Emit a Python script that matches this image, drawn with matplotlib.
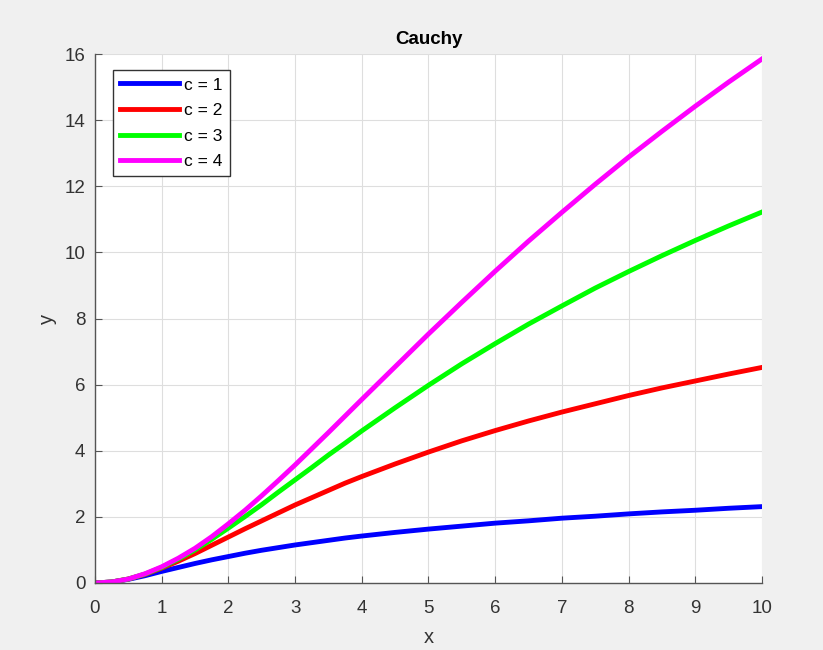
import numpy as np
import matplotlib
matplotlib.use('Agg')
import matplotlib.pyplot as plt

plt.rcParams['font.family'] = ['Liberation Sans', 'DejaVu Sans']

# values (finer steps where the curves bend most)
x = [0, 0.25, 0.5, 0.75, 1, 1.25, 1.5, 1.75, 2, 2.25, 2.5, 2.75, 3, 3.25, 3.5, 3.75,
     4, 4.5, 5, 5.5, 6, 6.5, 7, 7.5, 8, 8.5, 9, 9.5, 10]
y_c1 = [0, 0.03, 0.11, 0.22, 0.35, 0.47, 0.59, 0.70, 0.80, 0.90, 0.99, 1.07, 1.15, 1.22,
        1.29, 1.36, 1.42, 1.53, 1.63, 1.72, 1.81, 1.88, 1.96, 2.02, 2.09, 2.15, 2.20,
        2.26, 2.31]
y_c2 = [0, 0.03, 0.12, 0.26, 0.45, 0.66, 0.89, 1.14, 1.39, 1.64, 1.88, 2.12, 2.36, 2.58,
        2.80, 3.02, 3.22, 3.60, 3.96, 4.30, 4.61, 4.90, 5.17, 5.42, 5.67, 5.90, 6.11,
        6.32, 6.52]
y_c3 = [0, 0.03, 0.12, 0.27, 0.47, 0.72, 1.00, 1.32, 1.66, 2.01, 2.37, 2.75, 3.12, 3.49,
        3.87, 4.23, 4.60, 5.30, 5.98, 6.63, 7.24, 7.83, 8.38, 8.92, 9.42, 9.90, 10.36,
        10.80, 11.22]
y_c4 = [0, 0.03, 0.12, 0.28, 0.49, 0.75, 1.05, 1.40, 1.79, 2.20, 2.64, 3.10, 3.57, 4.06,
        4.55, 5.05, 5.55, 6.54, 7.53, 8.49, 9.43, 10.34, 11.21, 12.06, 12.88, 13.66,
        14.42, 15.15, 15.85]
labels = ['c = 1', 'c = 2', 'c = 3', 'c = 4']
colors = ['#0000ff', '#ff0000', '#00ff00', '#ff00ff']

fig = plt.figure(figsize=(8.23, 6.5), dpi=100, facecolor='#f0f0f0')
ax = fig.add_axes([0.1154, 0.1031, 0.8104, 0.8138])

for ys, lab, col in zip([y_c1, y_c2, y_c3, y_c4], labels, colors):
    ax.plot(x, ys, color=col, lw=3.5, label=lab, solid_joinstyle='round')

ax.set_xlim(0, 10)
ax.set_ylim(0, 16)
ax.set_xticks(range(0, 11))
ax.set_yticks(range(0, 17, 2))
ax.grid(True, color='#dedede', lw=0.8)
ax.set_axisbelow(True)
for s in ['top', 'right']:
    ax.spines[s].set_visible(False)
for s in ['left', 'bottom']:
    ax.spines[s].set_color('#555555')
    ax.spines[s].set_linewidth(1.0)
ax.tick_params(direction='in', labelsize=13.5, labelcolor='#333333', color='#555555',
               length=5)
ax.tick_params(axis='x', pad=12)
ax.tick_params(axis='y', pad=7)
ax.set_xlabel('x', fontsize=14.5, color='#333333', labelpad=8)
ax.set_ylabel('y', fontsize=14.5, color='#333333', labelpad=5)
ax.set_title('Cauchy', fontsize=13.5, fontweight='bold', color='black', pad=7)

leg = ax.legend(loc='upper left', fontsize=12.5, handlelength=3.4, fancybox=False,
                framealpha=1, edgecolor='#333333', bbox_to_anchor=(0.027, 0.969),
                borderaxespad=0, labelspacing=0.6, handletextpad=0.3, borderpad=0.4)
leg.get_frame().set_linewidth(1.0)

fig.savefig('out.png', dpi=100, facecolor=fig.get_facecolor())
